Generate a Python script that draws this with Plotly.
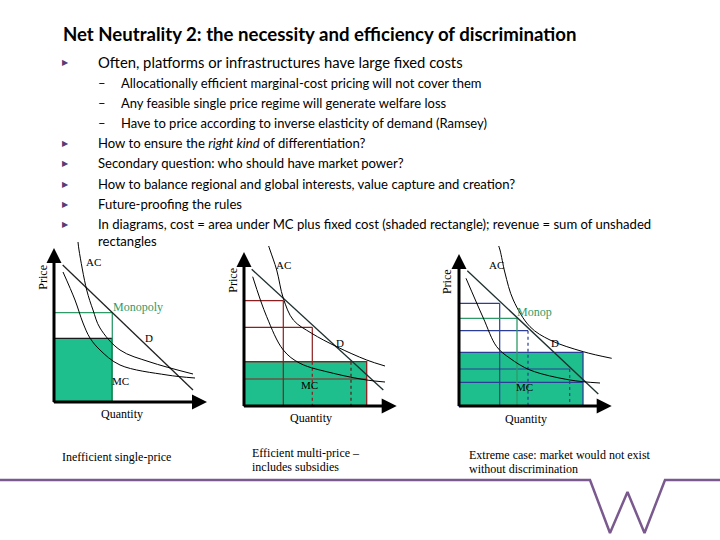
import plotly.graph_objects as go

W, H = 720, 540

# ---------------- text content ----------------
TITLE = "Net Neutrality 2: the necessity and efficiency of discrimination"
BULLET1 = "Often, platforms or infrastructures have large fixed costs"
SUB_BULLETS = [
    "Allocationally efficient marginal-cost pricing will not cover them",
    "Any feasible single price regime will generate welfare loss",
    "Have to price according to inverse elasticity of demand (Ramsey)",
]
BULLETS = [
    "How to ensure the <i>right kind</i> of differentiation?",
    "Secondary question: who should have market power?",
    "How to balance regional and global interests, value capture and creation?",
    "Future-proofing the rules",
    "In diagrams, cost = area under MC plus fixed cost (shaded rectangle); revenue = sum of unshaded",
]
BULLET_CONT = "rectangles"
CAPTIONS = [
    ["Inefficient single-price"],
    ["Efficient multi-price \u2013", "includes subsidies"],
    ["Extreme case: market would not exist", "without discrimination"],
]

# ---------------- diagram data (quantity, price) ----------------
# Panel 1: single price monopoly
P1_D_Q = [8.7, 139.0]
P1_D_P = [137.0, 12.0]
P1_AC_Q = [24, 25, 32.7, 39, 46, 66, 96, 139]
P1_AC_P = [160, 152, 112, 92, 74, 52, 40, 28]
P1_MC_Q = [9, 21, 29, 36, 46, 66, 113, 141]
P1_MC_P = [130, 102, 79, 64, 52, 37, 27, 24]
P1_MONO_Q = 58.3
P1_MONO_P = 89.3
P1_RECT = (58.3, 63.7)          # (quantity, price) of fixed-cost rectangle

# Panel 2: efficient multi-price
P2_D_Q = [7.7, 139.3]
P2_D_P = [136.7, 16.0]
P2_AC_Q = [24, 26, 32.7, 39.3, 49.3, 67.7, 92.7, 122.7, 141]
P2_AC_P = [162, 156, 136, 107.7, 86, 72.7, 59.3, 46, 40]
P2_MC_Q = [8.7, 22.7, 39.3, 56, 89.3, 122.7, 141]
P2_MC_P = [129.3, 89.3, 56, 42.7, 32.7, 26, 24]
P2_STEPS_Q = [39.3, 68.3, 107.0, 122.7]
P2_STEPS_P = [105.3, 78.7, 44.3, 27.0]
P2_RECT = (122.7, 44.3)

# Panel 3: extreme case
P3_D_Q = [8.3, 139.3]
P3_D_P = [135.3, 12.0]
P3_AC_Q = [39, 41, 46, 54.3, 71, 91, 124.3, 152.7]
P3_AC_P = [162, 156, 133, 106, 79.3, 66, 54.3, 47.7]
P3_MC_Q = [7, 24.3, 37.7, 51, 71, 111, 141]
P3_MC_P = [127.7, 88, 59.3, 47.7, 36, 26, 23]
P3_STEPS_Q = [40.7, 69.0, 110.7, 124.0]
P3_STEPS_P = [102.7, 75.3, 37.0, 23.7]
P3_MONO_Q = 58.0
P3_MONO_P = 87.7
P3_RECT = (124.0, 53.7)

AXIS_TOP = [154, 154, 152]
AXIS_RIGHT = [153, 152.7, 152.7]

# footer decoration (page px)
FOOT_X = [0, 590, 610, 627.5, 644.5, 665, 720]
FOOT_Y = [480, 480, 533, 492, 533, 480, 480]

# ---------------- styling ----------------
ORIGINS = [(54, 402), (244, 406), (459, 406)]
TEAL = "#1fbf8d"
GREEN = "#2f9a68"
RED = "#8b1e1e"
BLUE = "#2b3d96"
DARK = "#1e2f2f"
PURPLE = "#5b3b73"
SERIF = "Liberation Serif"
SANS = "Lato"
LO, HI = -22, 160

fig = go.Figure()
annotations = []
shapes = []

def px(x):
    return x / W

def py(y):
    return 1 - y / H

def axname(i):
    return ("x" if i == 0 else f"x{i+1}"), ("y" if i == 0 else f"y{i+1}")

def line(i, xs, ys, color, width=1.0, dash="solid", shape="linear"):
    xa, ya = axname(i)
    fig.add_trace(go.Scatter(x=xs, y=ys, mode="lines", xaxis=xa, yaxis=ya,
                             line=dict(color=color, width=width, dash=dash, shape=shape,
                                       smoothing=1.0),
                             hoverinfo="skip", showlegend=False))

def label(i, q, p, text, color="black", size=12, angle=0):
    xa, ya = axname(i)
    annotations.append(dict(x=q, y=p, xref=xa, yref=ya, text=text, showarrow=False,
                            textangle=angle,
                            font=dict(family=SERIF, size=size, color=color)))

def rect(i, q, p, color):
    xa, ya = axname(i)
    shapes.append(dict(type="rect", xref=xa, yref=ya, x0=0, y0=0, x1=q, y1=p,
                       fillcolor=TEAL, line=dict(color=color, width=1.3), layer="below"))

# rectangles first
rect(0, P1_RECT[0], P1_RECT[1], "#1a1a1a")
rect(1, P2_RECT[0], P2_RECT[1], RED)
rect(2, P3_RECT[0], P3_RECT[1], BLUE)

# ---- panel 1 ----
line(0, [0, P1_MONO_Q, P1_MONO_Q], [P1_MONO_P, P1_MONO_P, 0], GREEN, 1.3)
line(0, P1_D_Q, P1_D_P, "#222222", 1.3)
line(0, P1_AC_Q, P1_AC_P, "black", 1.0, shape="spline")
line(0, P1_MC_Q, P1_MC_P, "black", 1.0, shape="spline")

# ---- panel 2 ----
for k, (q, p) in enumerate(zip(P2_STEPS_Q, P2_STEPS_P)):
    line(1, [0, q], [p, p], RED, 1.2)
    if k == 0:
        line(1, [q, q], [p, 0], RED, 1.2)
    elif k == 1:
        line(1, [q, q], [p, P2_RECT[1]], RED, 1.2)
        line(1, [q, q], [P2_RECT[1], 0], RED, 1.2, dash="dot")
    elif k == 2:
        line(1, [q, q], [p, 0], "#5a1a1a", 1.2, dash="dot")
line(1, P2_D_Q, P2_D_P, DARK, 1.3)
line(1, P2_AC_Q, P2_AC_P, "black", 1.0, shape="spline")
line(1, P2_MC_Q, P2_MC_P, "black", 1.0, shape="spline")

# ---- panel 3 ----
for k, (q, p) in enumerate(zip(P3_STEPS_Q, P3_STEPS_P)):
    line(2, [0, q], [p, p], BLUE, 1.2)
    if k in (0,):
        line(2, [q, q], [p, 0], BLUE, 1.2)
    elif k in (1, 2):
        line(2, [q, q], [p, 0], BLUE, 1.2, dash="dot")
line(2, [0, P3_MONO_Q, P3_MONO_Q], [P3_MONO_P, P3_MONO_P, 0], GREEN, 1.3)
line(2, P3_D_Q, P3_D_P, DARK, 1.3)
line(2, P3_AC_Q, P3_AC_P, "black", 1.0, shape="spline")
line(2, P3_MC_Q, P3_MC_P, "black", 1.0, shape="spline")

# axes with arrows
for i in range(3):
    xa, ya = axname(i)
    line(i, [0, 0], [AXIS_TOP[i] - 6, 0], "black", 3)
    line(i, [0, AXIS_RIGHT[i] - 6], [0, 0], "black", 3)
    annotations.append(dict(x=0, y=AXIS_TOP[i], ax=0, ay=AXIS_TOP[i] - 8, xref=xa, yref=ya,
                            axref=xa, ayref=ya, text="", showarrow=True, arrowhead=2,
                            arrowsize=1.2, arrowwidth=2.5, arrowcolor="black", standoff=0))
    annotations.append(dict(x=AXIS_RIGHT[i], y=0, ax=AXIS_RIGHT[i] - 8, ay=0, xref=xa, yref=ya,
                            axref=xa, ayref=ya, text="", showarrow=True, arrowhead=2,
                            arrowsize=1.2, arrowwidth=2.5, arrowcolor="black", standoff=0))

# diagram labels
label(0, 39, 140, "AC", size=11)
label(0, 84, 95, "Monopoly", color=GREEN)
label(0, 95, 64, "D", size=11)
label(0, 66.5, 21, "MC", size=11)
label(0, 67.5, -12, "Quantity")
label(0, -11.3, 125, "Price", angle=-90)

label(1, 39.3, 141, "AC", size=11)
label(1, 96, 63.3, "D", size=11)
label(1, 65.3, 21, "MC", size=11)
label(1, 67, -12.3, "Quantity")
label(1, -11.3, 126, "Price", angle=-90)

label(2, 37.4, 141, "AC", size=11)
label(2, 75.7, 93.7, "Monop", color=GREEN)
label(2, 95.7, 62.7, "D", size=11)
label(2, 65.7, 19.3, "MC", size=11)
label(2, 66.7, -13.3, "Quantity")
label(2, -12.6, 124.3, "Price", angle=-90)

# captions (page px)
cap_pos = [(60, 457), (250, 453), (467, 455)]
for (cx, cy), lines_ in zip(cap_pos, CAPTIONS):
    for j, t in enumerate(lines_):
        annotations.append(dict(x=px(cx), y=py(cy + 14 * j), xref="paper", yref="paper",
                                xanchor="left", yanchor="middle", text=t, showarrow=False,
                                font=dict(family=SERIF, size=12, color="black")))

# slide text
def ptext(x, y, text, size, color="black", family=SANS, anchor="left"):
    annotations.append(dict(x=px(x), y=py(y), xref="paper", yref="paper", xanchor=anchor,
                            yanchor="middle", text=text, showarrow=False,
                            font=dict(family=family, size=size, color=color)))

ptext(61, 34, "<b>" + TITLE + "</b>", 18.6)
ptext(60, 62, "\u25B6", 8, PURPLE)
ptext(96, 62, BULLET1, 14.8)
for j, t in enumerate(SUB_BULLETS):
    ptext(96, 83 + 20 * j, "\u2013", 13)
    ptext(119, 83 + 20 * j, t, 13)
bys = [143, 163, 184, 204, 224]
for y, t in zip(bys, BULLETS):
    ptext(60, y, "\u25B6", 8, PURPLE)
    ptext(96, y, t, 13.1)
ptext(96, 241, BULLET_CONT, 13.1)

# footer line
fig.add_trace(go.Scatter(x=FOOT_X, y=FOOT_Y, mode="lines", xaxis="x4", yaxis="y4",
                         line=dict(color="#7a5a8e", width=2.5), hoverinfo="skip",
                         showlegend=False))

layout = dict(width=W, height=H, margin=dict(l=0, r=0, t=0, b=0),
              paper_bgcolor="white", plot_bgcolor="rgba(0,0,0,0)",
              annotations=annotations, shapes=shapes, showlegend=False)

for i, (ox, oy) in enumerate(ORIGINS):
    xk = "xaxis" if i == 0 else f"xaxis{i+1}"
    yk = "yaxis" if i == 0 else f"yaxis{i+1}"
    xa, ya = axname(i)
    layout[xk] = dict(domain=[(ox + LO) / W, (ox + HI) / W], range=[LO, HI],
                      visible=False, fixedrange=True, anchor=ya)
    layout[yk] = dict(domain=[(H - oy + LO) / H, (H - oy + HI) / H], range=[LO, HI],
                      visible=False, fixedrange=True, anchor=xa)
layout["xaxis4"] = dict(domain=[0, 1], range=[0, W], visible=False, fixedrange=True, anchor="y4")
layout["yaxis4"] = dict(domain=[0, 1], range=[H, 0], visible=False, fixedrange=True, anchor="x4")

fig.update_layout(**layout)
fig.write_html("out.html", config={"displayModeBar": False},
               post_script="document.body.style.margin='0';document.body.style.overflow='hidden';")
